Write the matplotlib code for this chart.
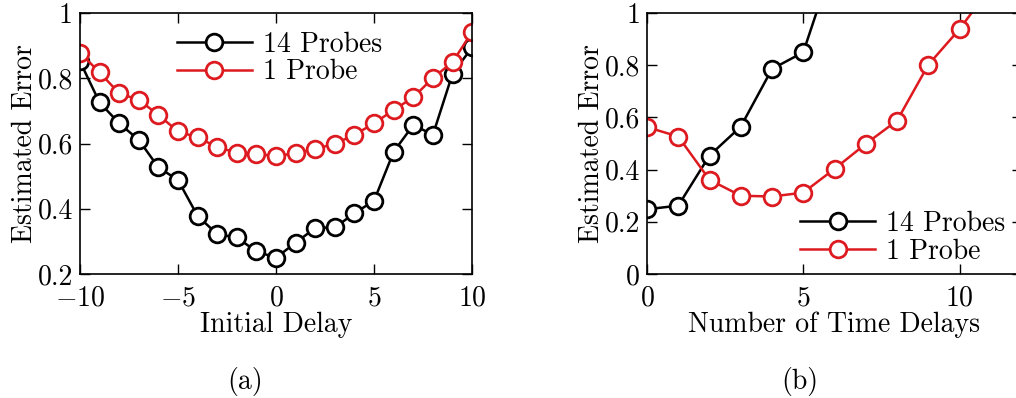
import matplotlib
matplotlib.use('Agg')
import matplotlib.pyplot as plt
import numpy as np

# (a) estimated error vs initial delay
delay = np.arange(-10, 11)
err_14_a = [0.852, 0.726, 0.662, 0.611, 0.527, 0.488, 0.378, 0.322, 0.312, 0.269, 0.250,
            0.296, 0.341, 0.343, 0.386, 0.425, 0.575, 0.657, 0.627, 0.814, 0.895]
err_1_a = [0.879, 0.818, 0.754, 0.734, 0.688, 0.637, 0.619, 0.589, 0.572, 0.568, 0.562,
           0.570, 0.584, 0.599, 0.627, 0.662, 0.703, 0.742, 0.801, 0.850, 0.942]

# (b) estimated error vs number of time delays
n_delays_14 = np.arange(0, 7)
err_14_b = [0.248, 0.262, 0.454, 0.565, 0.786, 0.850, 1.21]
n_delays_1 = np.arange(0, 12)
err_1_b = [0.563, 0.527, 0.361, 0.300, 0.297, 0.312, 0.403, 0.499, 0.588, 0.802, 0.939, 1.10]

plt.rcParams['font.family'] = 'cmr10'
plt.rcParams['mathtext.fontset'] = 'cm'
plt.rcParams['axes.formatter.use_mathtext'] = True
plt.rcParams['font.size'] = 20

RED = '#dd1a1f'
style = dict(marker='o', markersize=12, markerfacecolor='white', markeredgewidth=2, linewidth=1.8)


def setup(ax):
    ax.tick_params(direction='in', top=True, right=True, length=7, width=1)
    ax.tick_params(axis='x', pad=8)
    ax.tick_params(axis='y', pad=5)
    ax.xaxis.labelpad = 0
    ax.yaxis.labelpad = 0
    for s in ax.spines.values():
        s.set_linewidth(1.2)


fig = plt.figure(figsize=(10.16, 3.98), dpi=100)

ax1 = fig.add_axes([0.0787, 0.3116, 0.386, 0.6554])
ax1.plot(delay, err_14_a, color='black', label='14 Probes', **style)
ax1.plot(delay, err_1_a, color=RED, label='1 Probe', **style)
ax1.set_xlim(-10, 10)
ax1.set_ylim(0.2, 1)
ax1.set_xticks([-10, -5, 0, 5, 10])
ax1.set_yticks([0.2, 0.4, 0.6, 0.8, 1])
ax1.set_yticklabels(['0.2', '0.4', '0.6', '0.8', '1'])
ax1.set_xlabel('Initial Delay')
ax1.set_ylabel('Estimated Error')
setup(ax1)
ax1.legend(loc='upper left', bbox_to_anchor=(0.247, 0.93), frameon=False, borderpad=0,
           handlelength=2.7, handletextpad=0.4, labelspacing=0.05, borderaxespad=0)

ax2 = fig.add_axes([0.6368, 0.3116, 0.3692, 0.6554])
ax2.plot(n_delays_14, err_14_b, color='black', label='14 Probes', **style)
ax2.plot(n_delays_1, err_1_b, color=RED, label='1 Probe', **style)
ax2.set_xlim(0, 12)
ax2.set_ylim(0, 1)
ax2.set_xticks([0, 5, 10])
ax2.set_yticks([0, 0.2, 0.4, 0.6, 0.8, 1])
ax2.set_yticklabels(['0', '0.2', '0.4', '0.6', '0.8', '1'])
ax2.set_xlabel('Number of Time Delays')
ax2.set_ylabel('Estimated Error')
setup(ax2)
ax2.legend(loc='lower left', bbox_to_anchor=(0.408, 0.035), frameon=False, borderpad=0,
           handlelength=2.7, handletextpad=0.4, labelspacing=0.05, borderaxespad=0)

fig.text(0.241, 0.042, '(a)', ha='center', va='center')
fig.text(0.787, 0.042, '(b)', ha='center', va='center')

fig.savefig('out.png', dpi=100)
